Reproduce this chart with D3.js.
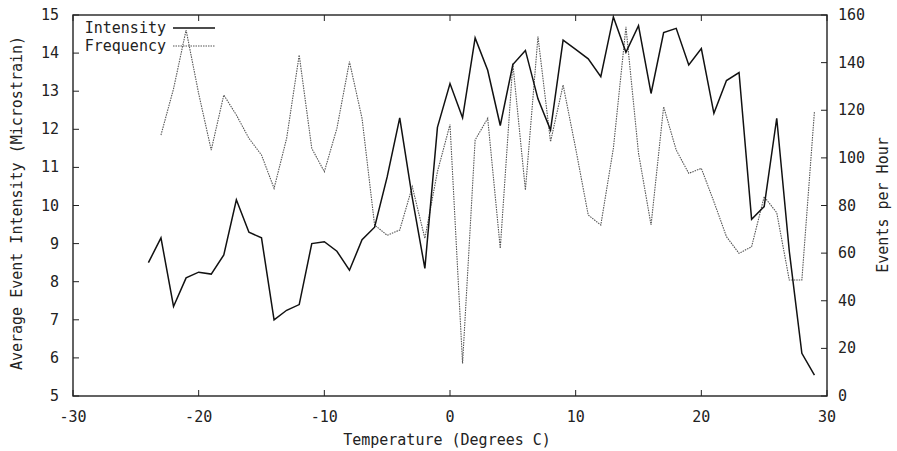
<!DOCTYPE html>
<html><head><meta charset="utf-8">
<script src="https://cdn.jsdelivr.net/npm/d3@7"></script>
<style>body{margin:0;background:#fff}text{font-family:"DejaVu Sans Mono",monospace;font-size:15px;fill:#222}</style>
</head><body><svg id="c" width="897" height="451"></svg>
<script>
const temps = d3.range(-24, 30);
const intensity = [8.5,9.15,7.35,8.1,8.25,8.2,8.7,10.15,9.3,9.15,7.0,7.25,7.4,9.0,9.05,8.8,8.3,9.1,9.43,10.75,12.3,10.2,8.35,12.05,13.2,12.3,14.4,13.55,12.1,13.7,14.07,12.8,11.98,14.34,14.1,13.85,13.38,14.95,14.02,14.72,12.94,14.54,14.65,13.69,14.12,12.42,13.28,13.49,9.64,9.97,12.29,8.8,6.12,5.55];
const freqTemps = d3.range(-23, 30);
const frequency = [109.6,129,153.7,127,103.3,126.4,118,108.2,101.2,87.2,108.2,143.2,104,94.2,112.4,140.4,116.6,71.8,67.5,69.7,87.9,66.2,94.2,114,13.7,107.5,116.6,62,139.7,86.5,150.9,106.8,130.6,104,76,71.8,104,155,102,71.8,121.5,103.3,93.5,95.6,81.6,66.9,59.9,62.7,83.7,77,48.7,48.7,119.4];
const xTicks = [-30,-20,-10,0,10,20,30];
const yTicks = d3.range(5, 16);
const y2Ticks = d3.range(0, 161, 20);
const seriesNames = ["Intensity","Frequency"];

const L=73,R=827,T=15,B=396;
const svg=d3.select("#c");
const x=d3.scaleLinear().domain([-30,30]).range([L,R]);
const y=d3.scaleLinear().domain([5,15]).range([B,T]);
const y2=d3.scaleLinear().domain([0,160]).range([B,T]);
const tk=6;
const ax=svg.append("g");
ax.selectAll(".xb").data(xTicks).join("line").attr("x1",d=>x(d)).attr("x2",d=>x(d)).attr("y1",B).attr("y2",B-tk).attr("stroke","#222");
ax.selectAll(".xt").data(xTicks).join("line").attr("x1",d=>x(d)).attr("x2",d=>x(d)).attr("y1",T).attr("y2",T+tk).attr("stroke","#222");
ax.selectAll(".xl").data(xTicks).join("text").attr("x",d=>x(d)).attr("y",422).attr("text-anchor","middle").text(d=>d);
ax.selectAll(".yl").data(yTicks).join("line").attr("x1",L).attr("x2",L+tk).attr("y1",d=>y(d)).attr("y2",d=>y(d)).attr("stroke","#222");
ax.selectAll(".ylt").data(yTicks).join("text").attr("x",59).attr("y",d=>y(d)+5).attr("text-anchor","end").text(d=>d);
ax.selectAll(".yr").data(y2Ticks).join("line").attr("x1",R).attr("x2",R-tk).attr("y1",d=>y2(d)).attr("y2",d=>y2(d)).attr("stroke","#222");
ax.selectAll(".yrt").data(y2Ticks).join("text").attr("x",838).attr("y",d=>y2(d)+5).attr("text-anchor","start").text(d=>d);
svg.append("rect").attr("x",L).attr("y",T).attr("width",R-L).attr("height",B-T).attr("fill","none").attr("stroke","#222").attr("stroke-width",1.4);
svg.append("text").attr("x",(L+R)/2-3).attr("y",445).attr("text-anchor","middle").text("Temperature (Degrees C)");
svg.append("text").attr("transform","translate(22,203) rotate(-90)").attr("text-anchor","middle").text("Average Event Intensity (Microstrain)");
svg.append("text").attr("transform","translate(888,205) rotate(-90)").attr("text-anchor","middle").text("Events per Hour");
const fl=d3.line().x((d,i)=>x(freqTemps[i])).y(d=>y2(d));
svg.append("path").datum(frequency).attr("d",fl).attr("fill","none").attr("stroke","#555").attr("stroke-width",1.1).attr("stroke-dasharray","1.5,1");
const il=d3.line().x((d,i)=>x(temps[i])).y(d=>y(d));
svg.append("path").datum(intensity).attr("d",il).attr("fill","none").attr("stroke","#111").attr("stroke-width",1.5);
const lg=svg.append("g");
seriesNames.forEach((n,i)=>{
  const yy=28+i*18;
  lg.append("text").attr("x",166).attr("y",yy+5).attr("text-anchor","end").text(n);
  const ln=lg.append("line").attr("x1",173).attr("x2",215).attr("y1",yy).attr("y2",yy);
  if(i===0) ln.attr("stroke","#111").attr("stroke-width",1.5);
  else ln.attr("stroke","#555").attr("stroke-width",1.1).attr("stroke-dasharray","1.5,1");
});
</script></body></html>
